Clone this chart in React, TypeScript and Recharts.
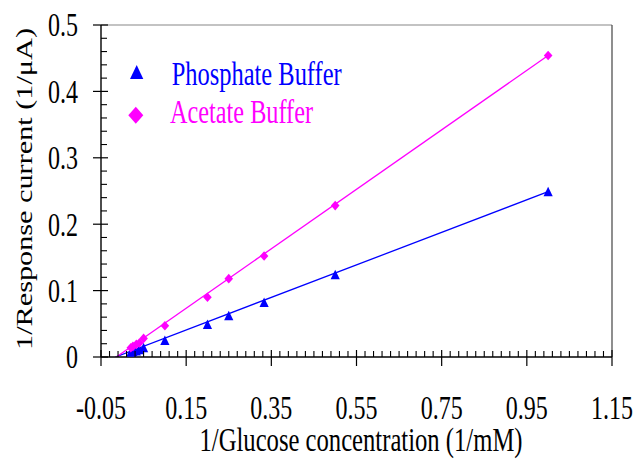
import React from 'react';
import { ComposedChart, Scatter, Line, XAxis, YAxis, ReferenceLine } from 'recharts';

// ---- data ----
const glucoseInv = [1.0, 0.5, 0.333, 0.25, 0.2, 0.1, 0.05, 0.04, 0.033, 0.025, 0.02];
const phosphateResp = [0.249, 0.124, 0.082, 0.062, 0.049, 0.025, 0.014, 0.011, 0.009, 0.008, 0.007];
const acetateResp = [0.454, 0.228, 0.152, 0.118, 0.09, 0.047, 0.028, 0.021, 0.019, 0.016, 0.014];

const phosphateTrendX = [-0.016, 1.0];
const phosphateTrendY = [0, 0.249];
const acetateTrendX = [-0.014, 1.0];
const acetateTrendY = [0, 0.454];

const xMajorTicks = [-0.05, 0.15, 0.35, 0.55, 0.75, 0.95, 1.15];
const xTickLabels = ['-0.05', '0.15', '0.35', '0.55', '0.75', '0.95', '1.15'];
const yMajorTicks = [0, 0.1, 0.2, 0.3, 0.4, 0.5];
const yTickLabels = ['0', '0.1', '0.2', '0.3', '0.4', '0.5'];
const minorStep = 0.02;

const seriesNames = ['Phosphate Buffer', 'Acetate Buffer'];
const xTitle = '1/Glucose concentration (1/mM)';
const yTitle = '1/Response current (1/\u03bcA)';

const BLUE = '#0000FF';
const MAGENTA = '#FF00FF';
const FONT = '"Liberation Serif", "Times New Roman", serif';
const STRETCH = 1.4;

// ---- derived tables ----
const phosphateData = glucoseInv.map((x, i) => ({ x, y: phosphateResp[i] }));
const acetateData = glucoseInv.map((x, i) => ({ x, y: acetateResp[i] }));
const phosphateTrend = phosphateTrendX.map((x, i) => ({ x, y: phosphateTrendY[i] }));
const acetateTrend = acetateTrendX.map((x, i) => ({ x, y: acetateTrendY[i] }));

const xAllTicks: number[] = [];
for (let k = 0; k <= 60; k++) xAllTicks.push(Number((xMajorTicks[0] + k * minorStep).toFixed(4)));
const yAllTicks: number[] = [];
for (let k = 0; k <= 25; k++) yAllTicks.push(Number((yMajorTicks[0] + k * minorStep).toFixed(4)));

const majorIndex = (list: number[], v: number) => list.findIndex((m) => Math.abs(m - v) < 1e-6);

const STxt = ({ x, y, anchor, children, size = 24, fill = '#000', len }: any) => (
  <g transform={`translate(${x},${y}) scale(1,${STRETCH})`}>
    <text
      x={0}
      y={0}
      textAnchor={anchor}
      fontFamily={FONT}
      fontSize={size}
      fill={fill}
      {...(len ? { textLength: len, lengthAdjust: 'spacingAndGlyphs' } : {})}
    >
      {children}
    </text>
  </g>
);

const XTick = (props: any) => {
  const { x, y, payload } = props;
  const j = majorIndex(xMajorTicks, payload.value);
  if (j >= 0) {
    return (
      <g>
        <line x1={x} x2={x} y1={y - 7} y2={y + 9} stroke="#000" strokeWidth={1.2} />
        <STxt x={x} y={y + 61.5} anchor="middle">{xTickLabels[j]}</STxt>
      </g>
    );
  }
  return <line x1={x} x2={x} y1={y - 6} y2={y} stroke="#000" strokeWidth={1.1} />;
};

const YTick = (props: any) => {
  const { x, y, payload } = props;
  const j = majorIndex(yMajorTicks, payload.value);
  if (j >= 0) {
    return (
      <g>
        <line x1={x - 8} x2={x + 7} y1={y} y2={y} stroke="#000" strokeWidth={1.2} />
        <STxt x={x - 23} y={y + 11.4} anchor="end">{yTickLabels[j]}</STxt>
      </g>
    );
  }
  return <line x1={x} x2={x + 6} y1={y} y2={y} stroke="#000" strokeWidth={1.1} />;
};

const Triangle = (props: any) => {
  const { cx, cy } = props;
  return (
    <polygon
      points={`${cx},${cy - 5} ${cx + 4.6},${cy + 4.5} ${cx - 4.6},${cy + 4.5}`}
      fill={BLUE}
    />
  );
};

const Diamond = (props: any) => {
  const { cx, cy } = props;
  return (
    <polygon
      points={`${cx},${cy - 4.8} ${cx + 4.3},${cy} ${cx},${cy + 4.8} ${cx - 4.3},${cy}`}
      fill={MAGENTA}
    />
  );
};

const Decorations = () => (
  <g>
    {/* legend */}
    <polygon points="136.7,65 143.3,79 130,79" fill={BLUE} />
    <STxt x={171.7} y={85} anchor="start" fill={BLUE} len={170 / 1}>{seriesNames[0]}</STxt>
    <polygon points="135.8,106.8 143.3,115.3 135.8,123.8 128.3,115.3" fill={MAGENTA} />
    <STxt x={170} y={122.7} anchor="start" fill={MAGENTA} len={143}>{seriesNames[1]}</STxt>
    {/* axis titles */}
    <STxt x={361} y={451} anchor="middle" len={323}>{xTitle}</STxt>
    <g transform={`translate(32,189) scale(1,${STRETCH}) rotate(-90)`}>
      <text
        x={0}
        y={0}
        textAnchor="middle"
        fontFamily={FONT}
        fontSize={23}
        fill="#000"
        textLength={230}
        lengthAdjust="spacingAndGlyphs"
      >
        {yTitle}
      </text>
    </g>
  </g>
);

export default function App() {
  return (
    <div style={{ position: 'absolute', left: 0, top: 0, width: 638, height: 459, background: '#fff' }}>
      <ComposedChart
        width={638}
        height={459}
        margin={{ top: 25, right: 26, bottom: 0, left: 0 }}
      >
        <XAxis
          type="number"
          dataKey="x"
          domain={[xMajorTicks[0], xMajorTicks[xMajorTicks.length - 1]]}
          allowDataOverflow
          ticks={xAllTicks}
          interval={0}
          tickLine={false}
          tickSize={0}
          tickMargin={0}
          height={102}
          axisLine={{ stroke: '#000', strokeWidth: 1.4 }}
          tick={<XTick />}
        />
        <YAxis
          type="number"
          dataKey="y"
          domain={[yMajorTicks[0], yMajorTicks[yMajorTicks.length - 1]]}
          allowDataOverflow
          ticks={yAllTicks}
          interval={0}
          tickLine={false}
          tickSize={0}
          tickMargin={0}
          width={101}
          axisLine={{ stroke: '#000', strokeWidth: 1.4 }}
          tick={<YTick />}
        />
        <ReferenceLine y={yMajorTicks[yMajorTicks.length - 1]} stroke="#888" strokeWidth={1.2} />
        <ReferenceLine x={xMajorTicks[xMajorTicks.length - 1]} stroke="#444" strokeWidth={1.2} />
        <Line
          data={phosphateTrend}
          dataKey="y"
          type="linear"
          stroke={BLUE}
          strokeWidth={1.3}
          dot={false}
          activeDot={false}
          isAnimationActive={false}
        />
        <Line
          data={acetateTrend}
          dataKey="y"
          type="linear"
          stroke={MAGENTA}
          strokeWidth={1.3}
          dot={false}
          activeDot={false}
          isAnimationActive={false}
        />
        <Scatter data={phosphateData} dataKey="y" shape={<Triangle />} isAnimationActive={false} />
        <Scatter data={acetateData} dataKey="y" shape={<Diamond />} isAnimationActive={false} />
        <Decorations />
      </ComposedChart>
    </div>
  );
}
